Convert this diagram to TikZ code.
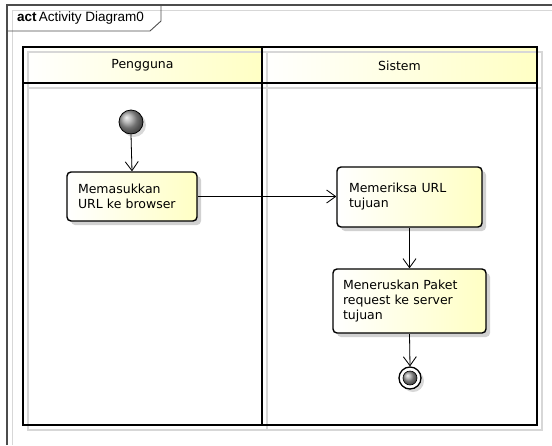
\documentclass[tikz,border=0pt]{standalone}
\usepackage{fontspec}
\setmainfont{DejaVu Sans}
\newfontfamily\tabfont{Liberation Sans}
\usetikzlibrary{arrows.meta,shadows,shapes.geometric}
\definecolor{uyellow}{RGB}{255,255,196}
\definecolor{shadowc}{RGB}{215,215,215}
\tikzset{
  actbox/.style={draw=black, line width=1.4pt, rounded corners=4pt,
    left color=white, right color=uyellow, align=left, inner ysep=0pt,
    font=\fontsize{12.5}{15}\selectfont,
    drop shadow={shadow xshift=4pt, shadow yshift=-4pt, fill=black!30, opacity=0.6}},
  flow/.style={draw=black, line width=0.8pt, -{Straight Barb[length=9pt,width=13pt,line width=0.8pt]}},
  flowshadow/.style={draw=shadowc, line width=0.8pt, -{Straight Barb[length=9pt,width=13pt,line width=0.8pt]}},
  lanetext/.style={font=\fontsize{12.5}{15}\selectfont},
  lanefill/.style={left color=white, right color=uyellow, draw=none},
  ballnode/.style={circle, draw=black, inner sep=0pt, ball color=gray!75},
}
\begin{document}
\begin{tikzpicture}[x=1pt,y=-1pt]
\useasboundingbox (0,0) rectangle (552,445);
% frame
\draw[shadowc, line width=1pt] (12,445) -- (12,10) -- (552,10);
\draw[black!70, line width=1.2pt] (7,445) -- (7,5) -- (552,5);
\draw[black!70, line width=0.9pt] (7,31) -- (150,31) -- (161,21) -- (161,5);
\node[anchor=west, inner sep=0pt, font=\tabfont\fontsize{13.5}{15}\selectfont] (title) at (17,18) {\textbf{act}\,Activity Diagram0};
% lane header fills
\fill[lanefill] (23,47) rectangle (262,83);
\fill[lanefill] (262,47) rectangle (537,83);
% lane shadows
\draw[shadowc, line width=1.2pt] (28,52) rectangle (542,430);
\draw[shadowc, line width=1.2pt] (28,88) -- (542,88);
\draw[shadowc, line width=1.2pt] (267,52) -- (267,430);
% lane borders
\draw[black, line width=1.6pt] (23,47) rectangle (537,425);
\draw[black, line width=1.6pt] (23,83) -- (537,83);
\draw[black, line width=1.6pt] (262,47) -- (262,425);
\node[lanetext] (lane1) at (142.5,65.5) {Pengguna};
\node[lanetext] (lane2) at (399.5,65.5) {Sistem};
% nodes
\node[ballnode, line width=0.8pt, minimum size=24pt,
  drop shadow={shadow xshift=3pt, shadow yshift=-3pt, fill=black!30, opacity=0.5}] (start) at (131,122) {};
\node[actbox, text width=108pt, inner xsep=11pt, minimum height=49pt] (b1) at (132,196.5) {Memasukkan\\URL ke browser};
\node[actbox, text width=121pt, inner xsep=12pt, minimum height=60pt] (b2) at (409.5,197) {Memeriksa URL\\tujuan};
\node[actbox, text width=133pt, inner xsep=10pt, minimum height=64pt] (b3) at (409.5,301) {Meneruskan Paket\\request ke server\\tujuan};
\node[circle, draw=black, line width=1.3pt, minimum size=22pt, inner sep=0pt, fill=white,
  drop shadow={shadow xshift=3pt, shadow yshift=-3pt, fill=black!30, opacity=0.5}] (end) at (410,378) {};
\node[ballnode, line width=0.6pt, minimum size=14pt] (endin) at (end) {};
% flows shadows
\begin{scope}[xshift=4pt, yshift=-3pt]
\draw[flowshadow] (start.south) -- (b1.north);
\draw[flowshadow] (b1.east) -- (b2.west |- b1.east);
\draw[flowshadow] (b2.south) -- (b3.north);
\draw[flowshadow] (b3.south) -- (end.north);
\end{scope}
% flows
\draw[flow] (start.south) -- (b1.north);
\draw[flow] (b1.east) -- (b2.west |- b1.east);
\draw[flow] (b2.south) -- (b3.north);
\draw[flow] (b3.south) -- (end.north);
\end{tikzpicture}
\end{document}
